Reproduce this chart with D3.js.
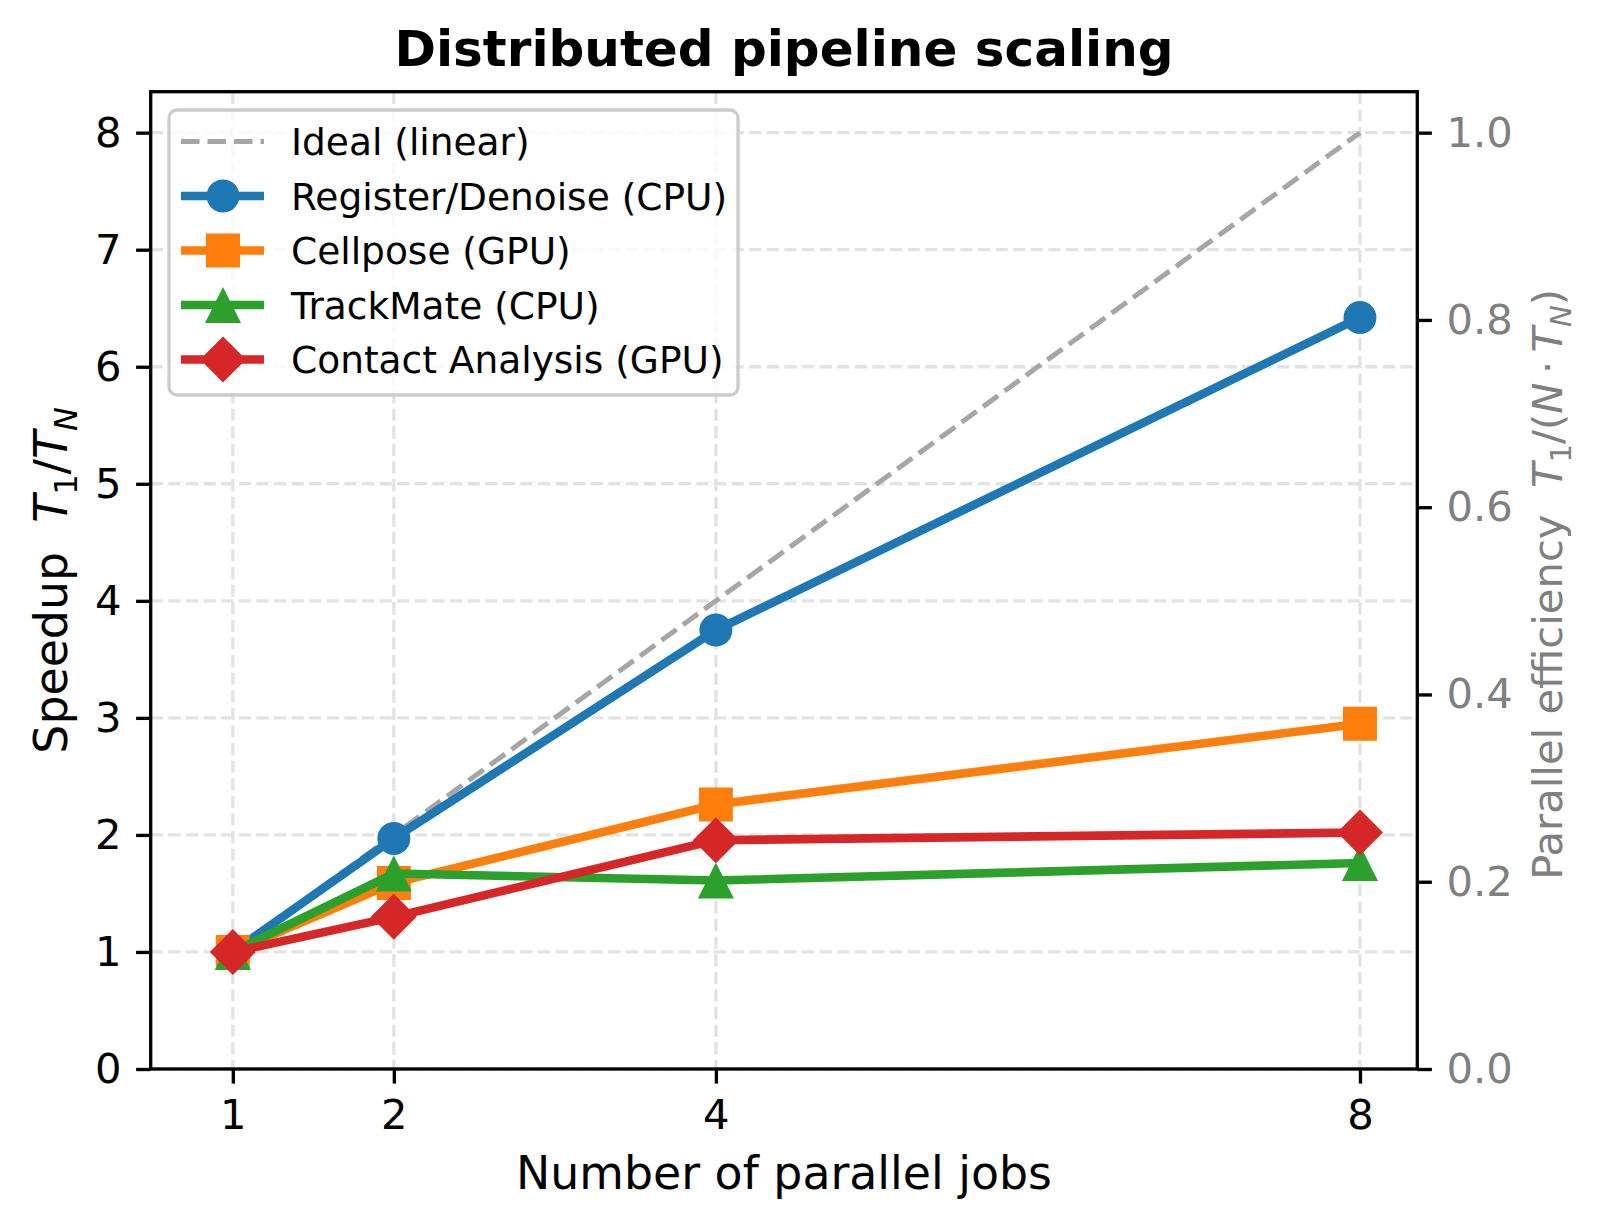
<!DOCTYPE html>
<html>
<head>
<meta charset="utf-8">
<script src="https://cdn.jsdelivr.net/npm/d3@7"></script>
<style>
    body { margin: 0; background: white; }
    svg { display: block; }
    text { font-family: 'DejaVu Sans', sans-serif; white-space: pre; }
</style>
</head>
<body>
<div id="chart"></div>
<script>
// data
const jobs = [1, 2, 4, 8]
const idealSpeedup = [1, 2, 4, 8]
const registerDenoise = [1.0, 1.97, 3.75, 6.42]
const cellpose = [1.0, 1.59, 2.26, 2.95]
const trackMate = [1.0, 1.67, 1.61, 1.76]
const contactAnalysis = [1.0, 1.30, 1.955, 2.02]

const seriesNames = ['Register/Denoise (CPU)', 'Cellpose (GPU)', 'TrackMate (CPU)', 'Contact Analysis (GPU)']
const seriesValues = [registerDenoise, cellpose, trackMate, contactAnalysis]
const seriesColors = ['#1f77b4', '#ff7f0e', '#2ca02c', '#d62728']
const seriesMarkers = ['circle', 'square', 'triangle', 'diamond']

const xTicks = [1, 2, 4, 8]
const leftTicks = [0, 1, 2, 3, 4, 5, 6, 7, 8]
const rightTicks = [0, 0.2, 0.4, 0.6, 0.8, 1.0]

const width = 1601
const height = 1229
const plot = { left: 150.7, right: 1417.3, top: 91.7, bottom: 1069 }
const pt = 300 / 72

const svg = d3.select('#chart').
    append('svg').
    attr('width', width).
    attr('height', height)

const x = d3.scaleLinear().domain([0.49, 8.356]).range([plot.left, plot.right])
const y = d3.scaleLinear().domain([0, 8.35]).range([plot.bottom, plot.top])
const yRight = d3.scaleLinear().domain([0, 8.35 / 8]).range([plot.bottom, plot.top])

// marker shapes, matplotlib-like
function markerPath (kind, s) {
    const h = s / 2
    if (kind === 'circle') return d3.symbol(d3.symbolCircle, Math.PI * h * h)()
    if (kind === 'square') return `M${-h},${-h}H${h}V${h}H${-h}Z`
    if (kind === 'triangle') return `M0,${-h}L${h},${h}L${-h},${h}Z`
    return `M0,${-h}L${h},0L0,${h}L${-h},0Z`
}
const markerSize = { circle: 33, square: 34, triangle: 36, diamond: 46 }

// text with simple math parts
function mathText (sel, parts) {
    parts.forEach(p => {
        const t = sel.append('tspan').text(p.t)
        if (p.i) t.attr('font-style', 'italic')
        if (p.sub) t.attr('font-size', '70%').attr('dy', '0.3em')
        if (p.back) t.attr('dy', '-0.21em')
    })
}

// grid
const grid = svg.append('g').
    attr('stroke', '#e3e3e3').
    attr('stroke-width', 0.8 * pt).
    attr('stroke-dasharray', '12.3 5.3')

grid.selectAll().data(xTicks).enter().append('line').
    attr('x1', d => x(d)).attr('x2', d => x(d)).
    attr('y1', plot.top).attr('y2', plot.bottom)

grid.selectAll().data(leftTicks).enter().append('line').
    attr('x1', plot.left).attr('x2', plot.right).
    attr('y1', d => y(d)).attr('y2', d => y(d))

const line = d3.line().x((d, i) => x(jobs[i])).y(d => y(d))

// ideal line
svg.append('path').
    datum(idealSpeedup).
    attr('d', line).
    attr('fill', 'none').
    attr('stroke', '#a6a6a6').
    attr('stroke-width', 1.2 * pt).
    attr('stroke-dasharray', '18.5 8')

// series
seriesValues.forEach((vals, k) => {
    svg.append('path').
        datum(vals).
        attr('d', line).
        attr('fill', 'none').
        attr('stroke', seriesColors[k]).
        attr('stroke-width', 8.6).
        attr('stroke-linejoin', 'round')

    svg.selectAll().
        data(vals).
        enter().
        append('path').
        attr('d', markerPath(seriesMarkers[k], markerSize[seriesMarkers[k]])).
        attr('transform', (d, i) => `translate(${x(jobs[i])}, ${y(d)})`).
        attr('fill', seriesColors[k])
})

// axes
const xAxis = svg.append('g').
    attr('transform', `translate(0, ${plot.bottom})`).
    call(d3.axisBottom(x).tickValues(xTicks).tickSize(14.6).tickPadding(14.6).tickFormat(d3.format('d')))

const yAxis = svg.append('g').
    attr('transform', `translate(${plot.left}, 0)`).
    call(d3.axisLeft(y).tickValues(leftTicks).tickSize(14.6).tickPadding(14.6).tickFormat(d3.format('d')))

const yAxisRight = svg.append('g').
    attr('transform', `translate(${plot.right}, 0)`).
    call(d3.axisRight(yRight).tickValues(rightTicks).tickSize(14.6).tickPadding(14.6).tickFormat(d3.format('.1f')))

;[xAxis, yAxis, yAxisRight].forEach(a => {
    a.select('.domain').remove()
    a.selectAll('line').attr('stroke', 'black').attr('stroke-width', 0.8 * pt)
    a.selectAll('text').attr('font-size', 41.7).attr('font-family', 'DejaVu Sans').attr('fill', 'black')
})
yAxisRight.selectAll('text').attr('fill', '#808080')
xAxis.selectAll('text').attr('dy', '0.73em')

// frame
svg.append('rect').
    attr('x', plot.left).
    attr('y', plot.top).
    attr('width', plot.right - plot.left).
    attr('height', plot.bottom - plot.top).
    attr('fill', 'none').
    attr('stroke', 'black').
    attr('stroke-width', 0.8 * pt)

// title and labels
svg.append('text').
    text('Distributed pipeline scaling').
    attr('x', (plot.left + plot.right) / 2).
    attr('y', 66).
    attr('text-anchor', 'middle').
    attr('font-size', 50).
    attr('font-weight', 'bold')

svg.append('text').
    text('Number of parallel jobs').
    attr('x', (plot.left + plot.right) / 2).
    attr('y', 1189).
    attr('text-anchor', 'middle').
    attr('font-size', 45.8)

const midY = (plot.top + plot.bottom) / 2

const leftLabel = svg.append('text').
    attr('transform', `translate(67, ${midY}) rotate(-90)`).
    attr('text-anchor', 'middle').
    attr('font-size', 45.8)
mathText(leftLabel, [
    { t: 'Speedup  ' }, { t: 'T', i: true }, { t: '1', sub: true }, { t: '/', back: true },
    { t: 'T', i: true }, { t: 'N', i: true, sub: true }
])

const rightLabel = svg.append('text').
    attr('transform', `translate(1562, ${midY + 4}) rotate(-90)`).
    attr('text-anchor', 'middle').
    attr('font-size', 41.7).
    attr('fill', '#808080')
mathText(rightLabel, [
    { t: 'Parallel efficiency  ' }, { t: 'T', i: true }, { t: '1', sub: true }, { t: '/(', back: true },
    { t: 'N', i: true }, { t: '\u2009·\u2009' }, { t: 'T', i: true }, { t: 'N', i: true, sub: true }, { t: ')', back: true }
])

// legend
const legend = svg.append('g')
legend.append('rect').
    attr('x', 169).
    attr('y', 110).
    attr('width', 569).
    attr('height', 285).
    attr('rx', 8).
    attr('fill', 'white').
    attr('fill-opacity', 0.8).
    attr('stroke', '#cccccc').
    attr('stroke-width', 0.8 * pt)

const legendNames = ['Ideal (linear)'].concat(seriesNames)
const legendRow = d3.scaleLinear().domain([0, 4]).range([141.5, 359.5])

const rows = legend.selectAll().
    data(legendNames).
    enter().
    append('g').
    attr('transform', (d, i) => `translate(0, ${legendRow(i)})`)

rows.append('line').
    attr('x1', 181).
    attr('x2', 264).
    attr('stroke', (d, i) => i === 0 ? '#a6a6a6' : seriesColors[i - 1]).
    attr('stroke-width', (d, i) => i === 0 ? 1.2 * pt : 8.6).
    attr('stroke-dasharray', (d, i) => i === 0 ? '18.5 8' : null)

rows.filter((d, i) => i > 0).
    append('path').
    attr('d', (d, i) => markerPath(seriesMarkers[i], markerSize[seriesMarkers[i]])).
    attr('transform', 'translate(223, 0)').
    attr('fill', (d, i) => seriesColors[i])

rows.append('text').
    text(d => d).
    attr('x', 291).
    attr('dy', '0.36em').
    attr('font-size', 37.5)
</script>
</body>
</html>
